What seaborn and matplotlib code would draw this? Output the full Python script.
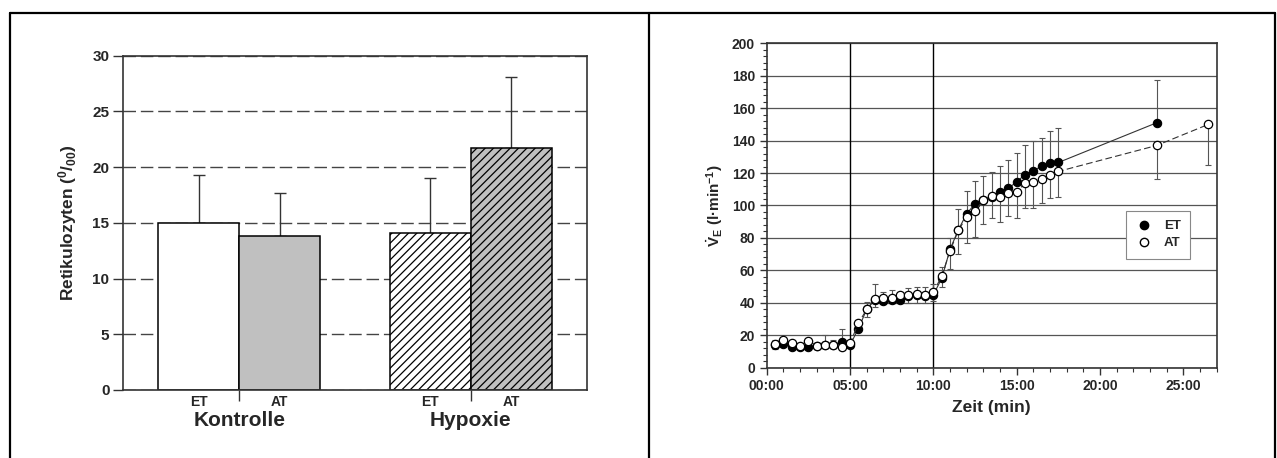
import numpy as np
import pandas as pd
import matplotlib
matplotlib.use("Agg")
import matplotlib.pyplot as plt
import seaborn as sns
from matplotlib.lines import Line2D
from matplotlib.ticker import MultipleLocator, FixedLocator, FixedFormatter

# --- DATA ---
GROUPS = ["Kontrolle", "Hypoxie"]
CONDITIONS = ["ET", "AT"]
RETI_ET = [15.0, 14.05]
RETI_AT = [13.8, 21.75]
RETI_ET_SD = [4.3, 4.95]
RETI_AT_SD = [3.85, 6.35]

TIME_ET = [0.5, 1.0, 1.5, 2.0, 2.5, 3.0, 3.5, 4.0, 4.5, 5.0,
           5.5, 6.0, 6.5, 7.0, 7.5, 8.0, 8.5, 9.0, 9.5, 10.0,
           10.5, 11.0, 11.5, 12.0, 12.5, 13.0, 13.5, 14.0, 14.5, 15.0,
           15.5, 16.0, 16.5, 17.0, 17.5, 23.4]
VE_ET = [14.0, 14.6, 13.0, 13.0, 13.0, 13.5, 14.0, 14.0, 16.0, 14.0,
         24.0, 36.0, 42.0, 41.0, 42.0, 42.0, 44.0, 45.0, 44.0, 45.0,
         55.0, 73.0, 85.0, 95.0, 101.0, 103.4, 105.5, 108.3, 110.5, 114.7,
         119.0, 121.3, 124.4, 126.0, 126.5, 151.0]
VE_ET_SD = [3.0, 4.4, 2.0, 2.0, 2.0, 2.0, 6.0, 3.0, 7.6, 3.0,
            3.0, 4.7, 9.6, 5.9, 6.0, 4.9, 5.0, 4.5, 6.0, 6.7,
            7.3, 7.0, 13.0, 14.0, 14.0, 15.0, 15.0, 16.0, 17.7, 17.5,
            18.5, 18.7, 17.0, 19.7, 21.0, 26.4]

TIME_AT = [0.5, 1.0, 1.5, 2.0, 2.5, 3.0, 3.5, 4.0, 4.5, 5.0,
           5.5, 6.0, 6.5, 7.0, 7.5, 8.0, 8.5, 9.0, 9.5, 10.0,
           10.5, 11.0, 11.5, 12.0, 12.5, 13.0, 13.5, 14.0, 14.5, 15.0,
           15.5, 16.0, 16.5, 17.0, 17.5, 23.4, 26.5]
VE_AT = [14.4, 17.0, 15.4, 13.6, 16.7, 13.4, 14.0, 14.0, 12.6, 15.0,
         27.4, 36.0, 42.4, 43.2, 43.0, 44.8, 45.0, 45.4, 44.6, 46.5,
         56.5, 72.0, 84.7, 93.0, 96.7, 103.4, 105.8, 105.4, 107.5, 108.5,
         113.7, 114.3, 116.3, 118.8, 121.0, 137.0, 150.0]
VE_AT_SD = [3.0, 2.0, 2.0, 1.5, 2.0, 2.0, 2.0, 2.0, 2.0, 3.0,
            3.0, 5.0, 5.0, 4.0, 3.0, 3.0, 5.0, 5.5, 4.6, 5.5,
            6.5, 11.0, 14.7, 16.3, 16.0, 15.0, 13.7, 15.4, 13.7, 16.0,
            15.4, 15.7, 15.0, 14.0, 16.0, 20.5, 25.0]

XTICKS_MIN = [0, 5, 10, 15, 20, 25]
XTICK_LABELS = ["00:00", "05:00", "10:00", "15:00", "20:00", "25:00"]
PHASE_LINES = [5, 10]

OUT_FILE = "out.png"

sns.set_style("ticks")
plt.rcParams['font.family'] = ['Liberation Sans', 'DejaVu Sans']
plt.rcParams['font.weight'] = 'bold'
plt.rcParams['mathtext.fontset'] = 'custom'
plt.rcParams['mathtext.rm'] = 'Liberation Sans:bold'
plt.rcParams['mathtext.bf'] = 'Liberation Sans:bold'
plt.rcParams['mathtext.it'] = 'Liberation Sans:bold:italic'
plt.rcParams['mathtext.default'] = 'rm'
plt.rcParams['hatch.linewidth'] = 0.9

SPINE = "#333333"

fig = plt.figure(figsize=(12.77, 4.58), dpi=100)
ax1 = fig.add_axes([0.0966, 0.1485, 0.3629, 0.7299])
ax2 = fig.add_axes([0.6004, 0.1972, 0.3524, 0.7083])

# --- left: Retikulozyten bars ---
df_bar = pd.DataFrame({
    "group": GROUPS * 2,
    "cond": ["ET"] * len(GROUPS) + ["AT"] * len(GROUPS),
    "value": RETI_ET + RETI_AT,
})
sns.barplot(data=df_bar, x="group", y="value", hue="cond", order=GROUPS,
            hue_order=CONDITIONS, palette={"ET": "white", "AT": "#c0c0c0"},
            width=0.7, errorbar=None, edgecolor="black", linewidth=1.1,
            legend=False, ax=ax1, zorder=2)

bars = sorted(ax1.patches, key=lambda p: p.get_x())
sds = [RETI_ET_SD[0], RETI_AT_SD[0], RETI_ET_SD[1], RETI_AT_SD[1]]
labels = ["ET", "AT", "ET", "AT"]
for i, (bar, sd, lab) in enumerate(zip(bars, sds, labels)):
    if i >= 2:
        bar.set_hatch("////")
    cx = bar.get_x() + bar.get_width() / 2
    ax1.errorbar(cx, bar.get_height(), yerr=[[0], [sd]], fmt="none",
                 ecolor="#333333", elinewidth=1.0, capsize=4.5, capthick=1.0, zorder=1)
    ax1.text(cx, -0.036, lab, transform=ax1.get_xaxis_transform(),
             ha="center", va="center", fontsize=10, fontweight="bold")

for i, g in enumerate(GROUPS):
    ax1.text(i, -0.09, g, transform=ax1.get_xaxis_transform(),
             ha="center", va="center", fontsize=15, fontweight="bold")

ax1.set_ylim(0, 30)
ax1.set_xlim(-0.5, 1.5)
ax1.yaxis.set_major_locator(MultipleLocator(5))
ax1.set_xticks([0, 1])
ax1.set_xticklabels(["", ""])
ax1.tick_params(axis="x", length=8, width=1.0, color=SPINE, direction="out")
ax1.tick_params(axis="y", length=7, width=1.0, color=SPINE, direction="out", labelsize=11, pad=3)
ax1.yaxis.grid(True, linestyle=(0, (9, 3.5)), color="#444444", linewidth=1.0)
ax1.set_axisbelow(True)
ax1.set_xlabel("")
ax1.set_ylabel(r"Retikulozyten ($^{0}$/$_{00}$)", fontsize=12.5, fontweight="bold")
ax1.yaxis.set_label_coords(-0.095, 0.5)
for s in ax1.spines.values():
    s.set_visible(True)
    s.set_color(SPINE)
    s.set_linewidth(1.2)

# --- right: ventilation over time ---
df_et = pd.DataFrame({"t": TIME_ET, "v": VE_ET})
df_at = pd.DataFrame({"t": TIME_AT, "v": VE_AT})

ax2.errorbar(TIME_ET, VE_ET, yerr=[np.zeros(len(VE_ET)), VE_ET_SD], fmt="none",
             ecolor="#555555", elinewidth=0.8, capsize=2.5, capthick=0.8, zorder=3)
ax2.errorbar(TIME_AT, VE_AT, yerr=[VE_AT_SD, np.zeros(len(VE_AT))], fmt="none",
             ecolor="#555555", elinewidth=0.8, capsize=2.5, capthick=0.8, zorder=3)

sns.lineplot(data=df_et, x="t", y="v", ax=ax2, color="#333333", linewidth=0.8,
             marker="o", markersize=6, markerfacecolor="black",
             markeredgecolor="black", markeredgewidth=0.8, zorder=4)
sns.lineplot(data=df_at, x="t", y="v", ax=ax2, color="#333333", linewidth=0.8,
             linestyle=(0, (6, 3)), marker="o", markersize=6,
             markerfacecolor="white", markeredgecolor="black",
             markeredgewidth=0.9, zorder=5)

for xv in PHASE_LINES:
    ax2.axvline(xv, color="black", linewidth=1.0, zorder=1)

ax2.set_xlim(0, 27)
ax2.set_ylim(0, 200)
ax2.xaxis.set_major_locator(FixedLocator(XTICKS_MIN))
ax2.xaxis.set_major_formatter(FixedFormatter(XTICK_LABELS))
ax2.xaxis.set_minor_locator(MultipleLocator(1))
ax2.yaxis.set_major_locator(MultipleLocator(20))
ax2.yaxis.set_minor_locator(MultipleLocator(4))
ax2.tick_params(axis="both", which="major", length=5, width=1.0, color=SPINE,
                direction="out", labelsize=10)
ax2.tick_params(axis="both", which="minor", length=3, width=0.8, color=SPINE,
                direction="out")
ax2.yaxis.grid(True, which="major", color="#555555", linewidth=0.9)
ax2.set_axisbelow(True)
ax2.set_xlabel("Zeit (min)", fontsize=12.5, fontweight="bold", labelpad=5)
ax2.set_ylabel(r"$\dot{V}_{E}$ (l·min$^{-1}$)", fontsize=11, fontweight="bold")
ax2.yaxis.set_label_coords(-0.092, 0.5)
for s in ax2.spines.values():
    s.set_visible(True)
    s.set_color(SPINE)
    s.set_linewidth(1.2)

handles = [
    Line2D([], [], marker="o", linestyle="none", markersize=6,
           markerfacecolor="black", markeredgecolor="black", label="ET"),
    Line2D([], [], marker="o", linestyle="none", markersize=6,
           markerfacecolor="white", markeredgecolor="black", label="AT"),
]
leg = ax2.legend(handles=handles, loc="upper left", bbox_to_anchor=(0.798, 0.483),
                 fancybox=False, framealpha=1, edgecolor="#888888",
                 prop={"weight": "bold", "size": 9.5}, handletextpad=0.8,
                 borderpad=0.7, labelspacing=0.35, handlelength=1.4,
                 borderaxespad=0)
leg.get_frame().set_linewidth(0.8)

# outer table frame
frame_kw = dict(transform=fig.transFigure, color="black", linewidth=1.6)
fig.add_artist(Line2D([0.0078, 0.9984], [0.9727, 0.9727], **frame_kw))
fig.add_artist(Line2D([0.0078, 0.0078], [0.0, 0.9727], **frame_kw))
fig.add_artist(Line2D([0.5082, 0.5082], [0.0, 0.9727], **frame_kw))
fig.add_artist(Line2D([0.9984, 0.9984], [0.0, 0.9727], **frame_kw))

fig.savefig(OUT_FILE, dpi=100)
